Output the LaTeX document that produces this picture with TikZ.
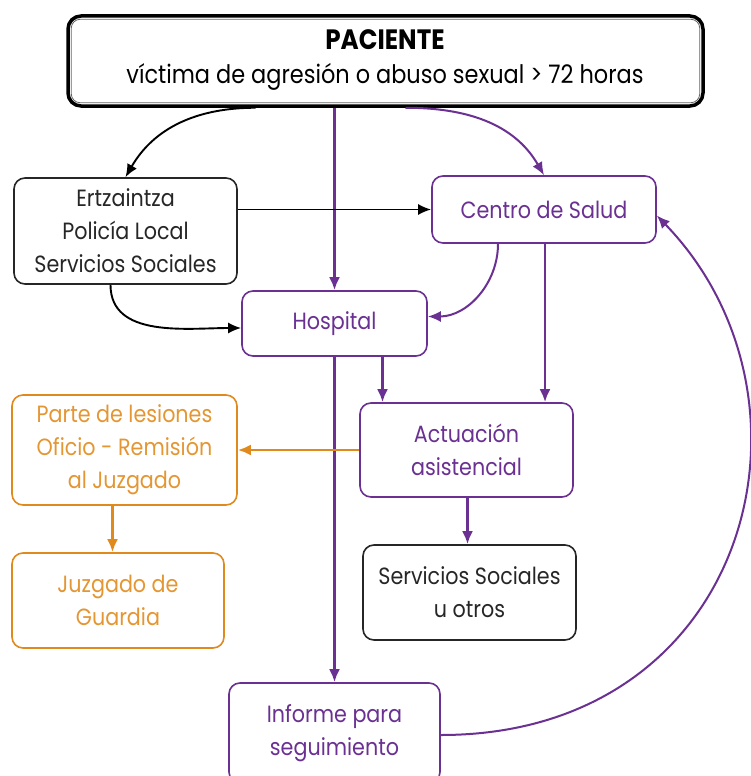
\documentclass[tikz,border=0pt]{standalone}
\usepackage{fontspec}
\setmainfont{Poppins}[FakeStretch=0.88]
\usetikzlibrary{arrows.meta}
\definecolor{pur}{RGB}{106,48,146}
\definecolor{org}{RGB}{224,138,30}
\definecolor{orgtxt}{RGB}{228,150,50}
\tikzset{
  box/.style={rectangle, rounded corners=11pt, line width=1.6pt, align=center, inner sep=0pt,
    font=\fontsize{23.5}{33}\selectfont},
  bbox/.style={box, draw=black!85, text=black!85},
  pbox/.style={box, draw=pur, text=pur},
  obox/.style={box, draw=org, text=orgtxt},
  parr/.style={draw=pur, line width=2.8pt, -{Latex[length=13pt,width=11pt]}},
  parrthin/.style={draw=pur, line width=2pt, -{Latex[length=13pt,width=11pt]}},
  barr/.style={draw=black, line width=1.9pt, -{Latex[length=13pt,width=11pt]}},
  oarr/.style={draw=org, line width=2.8pt, -{Latex[length=13pt,width=11pt]}},
}
\begin{document}
\begin{tikzpicture}[x=1pt,y=-1pt]
\useasboundingbox (0,0) rectangle (750,776);
% PACIENTE
\node[rectangle, rounded corners=13pt, draw=black, line width=3.5pt, minimum width=635pt, minimum height=90pt, inner sep=0pt] (pac) at (385.5,61) {};
\draw[black!60, line width=0.8pt, rounded corners=9pt] ([shift={(5,5)}]pac.north west) rectangle ([shift={(-5,-5)}]pac.south east);
\node[font=\fontsize{28}{30}\selectfont\bfseries] (pact) at (385,40) {PACIENTE};
\node[font=\fontsize{25.5}{28}\selectfont] (pacs) at (385,77) {víctima de agresión o abuso sexual > 72 horas};

\node[bbox, minimum width=223pt, minimum height=106pt] (ertz) at (125.5,231) {Ertzaintza\\Policía Local\\Servicios Sociales};
\node[pbox, minimum width=224pt, minimum height=67pt] (cs) at (544,209.5) {Centro de Salud};
\node[pbox, minimum width=185pt, minimum height=65pt] (hosp) at (334.5,323.5) {Hospital};
\node[pbox, minimum width=213pt, minimum height=94pt] (act) at (466.5,450) {Actuación\\asistencial};
\node[obox, minimum width=225pt, minimum height=110pt] (parte) at (124.5,450) {Parte de lesiones\\Oficio - Remisión\\al Juzgado};
\node[obox, minimum width=212pt, minimum height=95pt] (juz) at (118,600.5) {Juzgado de\\Guardia};
\node[bbox, minimum width=213pt, minimum height=95pt] (ss) at (469.5,592.5) {Servicios Sociales\\u otros};
\node[pbox, minimum width=211pt, minimum height=100pt] (inf) at (334.5,733) {Informe para\\seguimiento};

% connectors
\draw[barr] ([xshift=-130pt]pac.south) to[out=180,in=60] (ertz.north);
\draw[parr] (pac.south -| hosp.north) -- (hosp.north);
\draw[parrthin] ([xshift=20pt]pac.south) to[out=0,in=120] (cs.north);
\draw[barr] (ertz.east |- cs.west) -- (cs.west);
\draw[barr] ([xshift=-15pt]ertz.south) to[out=-90,in=180] ([yshift=-4.5pt]hosp.west);
\draw[parrthin] ([xshift=-46pt]cs.south) to[out=-90,in=0] ([yshift=7pt]hosp.east);
\draw[parr] ([xshift=1pt]cs.south) -- ([xshift=1pt]cs.south |- act.north);
\draw[parr] ([xshift=48pt]hosp.south) -- ([xshift=48pt]hosp.south |- act.north);
\draw[parr] (hosp.south) -- (inf.north);
\draw[oarr] (act.west) -- (act.west -| parte.east);
\draw[oarr] ([xshift=-12pt]parte.south) -- ([xshift=-12pt]parte.south |- juz.north);
\draw[parr] ([xshift=1pt]act.south) -- ([xshift=1pt]act.south |- ss.north);
\coordinate (infr) at ([yshift=-2pt]inf.east);
\coordinate (cse) at ([yshift=-6pt]cs.east);
\draw[parrthin] (infr) .. controls (750,735) and (835,400) .. (cse);
\end{tikzpicture}
\end{document}
